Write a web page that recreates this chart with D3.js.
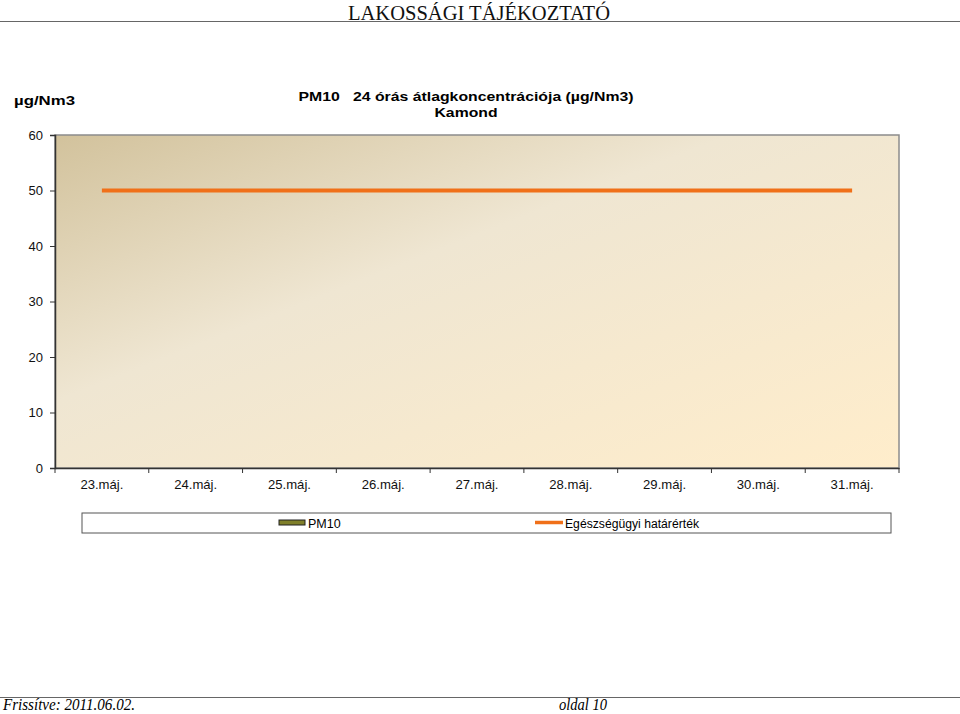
<!DOCTYPE html>
<html>
<head>
<meta charset="utf-8">
<script src="https://cdn.jsdelivr.net/npm/d3@7"></script>
<style>
  body { margin: 0; background: #fff; }
  svg { display: block; }
</style>
</head>
<body>
<div id="chart"></div>
<script>
// categories and series
var days = ["23.máj.", "24.máj.", "25.máj.", "26.máj.", "27.máj.", "28.máj.", "29.máj.", "30.máj.", "31.máj."];
var pm10 = [null, null, null, null, null, null, null, null, null]; // no measurements in the period
var limit = [50, 50, 50, 50, 50, 50, 50, 50, 50];
var y_ticks = [0, 10, 20, 30, 40, 50, 60];

var page_title = "LAKOSSÁGI TÁJÉKOZTATÓ";
var chart_title = ["PM10   24 órás átlagkoncentrációja (µg/Nm3)", "Kamond"];
var unit_label = "µg/Nm3";
var legend_labels = ["PM10", "Egészségügyi határérték"];
var footer_left = "Frissítve: 2011.06.02.";
var footer_right = "oldal 10";

var draw = function() {
  // Change these to fine-tune layout
  var W = 960, H = 714;
  var plot = { left: 55, right: 899, top: 135, bottom: 468 };
  var pm10_color = "#7f7f2a";
  var limit_color = "#f07019";
  var sans = "Arial, 'Liberation Sans', sans-serif";
  var serif = "'Times New Roman', 'Liberation Serif', serif";
  //////////////////////////////////

  var svg = d3.select("#chart").append("svg")
      .attr("width", W)
      .attr("height", H);

  // *** PAGE HEADER / FOOTER *** //
  svg.append("text")
      .attr("x", 479).attr("y", 20)
      .attr("text-anchor", "middle")
      .attr("textLength", 262).attr("lengthAdjust", "spacingAndGlyphs")
      .style("font-family", serif).style("font-size", "22px").style("fill", "#111")
      .text(page_title);

  svg.append("line")
      .attr("x1", 0).attr("x2", W).attr("y1", 21.5).attr("y2", 21.5)
      .style("stroke", "#666").style("stroke-width", 1.2);

  svg.append("line")
      .attr("x1", 0).attr("x2", W).attr("y1", 697.5).attr("y2", 697.5)
      .style("stroke", "#666").style("stroke-width", 1.2);

  svg.append("text")
      .attr("x", 3).attr("y", 710)
      .attr("textLength", 132).attr("lengthAdjust", "spacingAndGlyphs")
      .style("font-family", serif).style("font-style", "italic").style("font-size", "16px")
      .text(footer_left);

  svg.append("text")
      .attr("x", 559).attr("y", 710)
      .attr("textLength", 48).attr("lengthAdjust", "spacingAndGlyphs")
      .style("font-family", serif).style("font-style", "italic").style("font-size", "16px")
      .text(footer_right);

  // *** TITLES *** //
  svg.append("text")
      .attr("x", 466).attr("y", 101)
      .attr("text-anchor", "middle")
      .attr("textLength", 335).attr("lengthAdjust", "spacingAndGlyphs")
      .attr("xml:space", "preserve")
      .style("font-family", sans).style("font-weight", "bold").style("font-size", "13.5px")
      .style("white-space", "pre")
      .text(chart_title[0]);

  svg.append("text")
      .attr("x", 466).attr("y", 117)
      .attr("text-anchor", "middle")
      .attr("textLength", 63).attr("lengthAdjust", "spacingAndGlyphs")
      .style("font-family", sans).style("font-weight", "bold").style("font-size", "13.5px")
      .text(chart_title[1]);

  svg.append("text")
      .attr("x", 14).attr("y", 105)
      .attr("textLength", 61).attr("lengthAdjust", "spacingAndGlyphs")
      .style("font-family", sans).style("font-weight", "bold").style("font-size", "13px")
      .text(unit_label);

  // *** SCALES *** //
  var x = d3.scaleBand().domain(days).range([plot.left, plot.right]);
  var y = d3.scaleLinear().domain([0, 60]).range([plot.bottom, plot.top]);

  // plot background gradient
  var defs = svg.append("defs");
  var grad = defs.append("linearGradient")
      .attr("id", "bg")
      .attr("x1", "0%").attr("y1", "0%").attr("x2", "100%").attr("y2", "100%");
  grad.append("stop").attr("offset", "0%").attr("stop-color", "#d2c29c");
  grad.append("stop").attr("offset", "40%").attr("stop-color", "#efe6d2");
  grad.append("stop").attr("offset", "100%").attr("stop-color", "#ffedcb");

  svg.append("rect")
      .attr("x", plot.left).attr("y", plot.top)
      .attr("width", plot.right - plot.left).attr("height", plot.bottom - plot.top)
      .style("fill", "url(#bg)")
      .style("stroke", "#8c8c8c").style("stroke-width", 1.5);

  // *** BARS *** //
  svg.selectAll("rect.bar")
      .data(days.map(function(d, i) { return { day: d, value: pm10[i] }; })
        .filter(function(d) { return d.value != null; }))
    .enter().append("rect")
      .attr("class", "bar")
      .attr("x", function(d) { return x(d.day) + x.bandwidth() * 0.2; })
      .attr("width", x.bandwidth() * 0.6)
      .attr("y", function(d) { return y(d.value); })
      .attr("height", function(d) { return y(0) - y(d.value); })
      .style("fill", pm10_color).style("stroke", "#333");

  // *** LIMIT LINE *** //
  var line = d3.line()
      .x(function(d, i) { return x(days[i]) + x.bandwidth() / 2; })
      .y(function(d) { return y(d); });

  svg.append("path")
      .datum(limit)
      .attr("d", line)
      .style("fill", "none")
      .style("stroke", limit_color)
      .style("stroke-width", 4);

  // *** AXES *** //
  var y_axis = svg.append("g")
      .attr("transform", "translate(" + plot.left + ",0)")
      .call(d3.axisLeft(y).tickValues(y_ticks).tickSize(5).tickPadding(7));

  var x_axis = svg.append("g")
      .attr("transform", "translate(0," + plot.bottom + ")")
      .call(d3.axisBottom(x).tickSize(0).tickPadding(12));

  // tick marks at the band edges
  var edges = days.map(function(d) { return x(d); }).concat([plot.right]);
  x_axis.selectAll("line.edge")
      .data(edges)
    .enter().append("line")
      .attr("class", "edge")
      .attr("x1", function(d) { return d; }).attr("x2", function(d) { return d; })
      .attr("y1", 0).attr("y2", 5)
      .style("stroke", "#333");

  [y_axis, x_axis].forEach(function(a) {
    a.select(".domain").style("stroke", "#333").style("stroke-width", 1.5);
    a.selectAll(".tick line").style("stroke", "#333");
    a.selectAll("text")
        .style("font-family", sans).style("font-size", "13px").style("fill", "#111");
  });
  x_axis.selectAll(".tick text").attr("textLength", 43).attr("lengthAdjust", "spacingAndGlyphs");

  // *** LEGEND *** //
  var legend = svg.append("g");
  legend.append("rect")
      .attr("x", 82).attr("y", 513).attr("width", 809).attr("height", 20)
      .style("fill", "#fff").style("stroke", "#555");

  legend.append("rect")
      .attr("x", 279).attr("y", 520).attr("width", 26).attr("height", 5)
      .style("fill", pm10_color).style("stroke", "#222").style("stroke-width", 1);
  legend.append("text")
      .attr("x", 308).attr("y", 527.5)
      .style("font-family", sans).style("font-size", "12.5px")
      .text(legend_labels[0]);

  legend.append("line")
      .attr("x1", 535).attr("x2", 563).attr("y1", 522.5).attr("y2", 522.5)
      .style("stroke", limit_color).style("stroke-width", 3.5);
  legend.append("text")
      .attr("x", 565).attr("y", 527.5)
      .attr("textLength", 134).attr("lengthAdjust", "spacingAndGlyphs")
      .style("font-family", sans).style("font-size", "12.5px")
      .text(legend_labels[1]);
}

draw();
</script>
</body>
</html>
